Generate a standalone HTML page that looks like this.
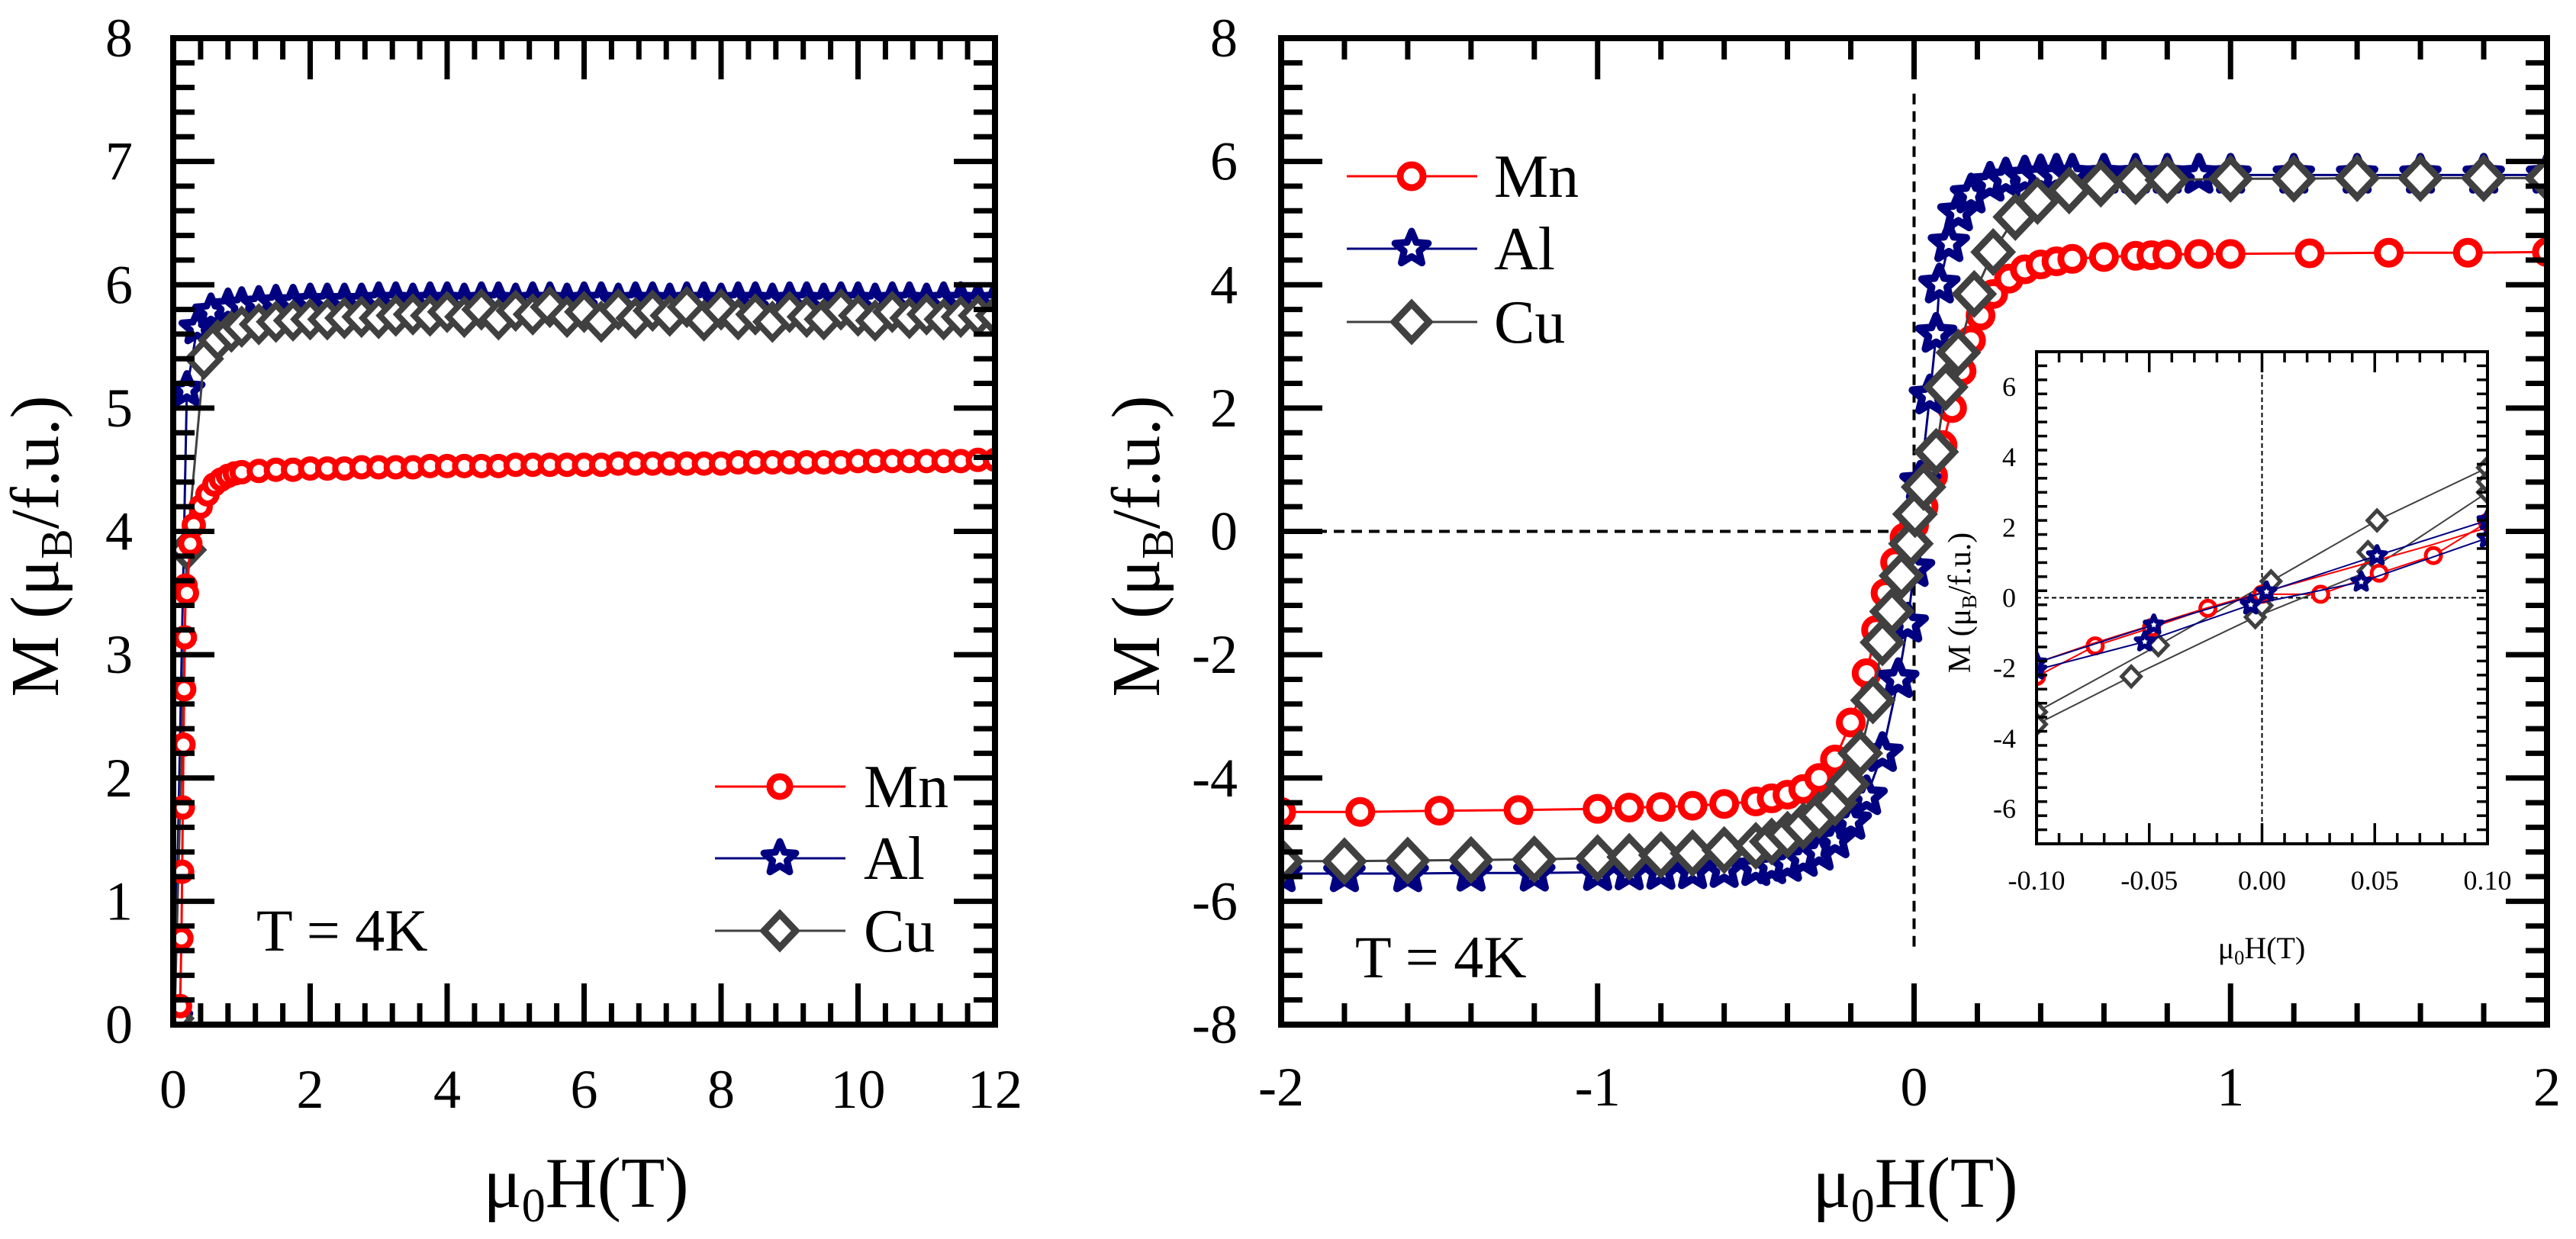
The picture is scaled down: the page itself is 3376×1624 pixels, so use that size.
<!DOCTYPE html>
<html><head><meta charset="utf-8"><style>
html,body{margin:0;padding:0;background:#fff}
svg{display:block}
text{font-family:"Liberation Serif","Times New Roman",serif;fill:#000}
</style></head><body>
<svg id="fig" xmlns="http://www.w3.org/2000/svg" width="3376" height="1624" viewBox="0 0 3376 1624">
<rect x="0" y="0" width="3376" height="1624" fill="#fff"/>
</svg>
<script>
// ---------- LEFT PANEL DATA (M vs H, 0-12 T) ----------
const hPlat = [1,1.25,1.5,1.75,2,2.25,2.5,2.75,3,3.25,3.5,3.75,4,4.25,4.5,4.75,5,5.25,5.5,5.75,6,6.25,6.5,6.75,7,7.25,7.5,7.75,8,8.25,8.5,8.75,9,9.25,9.5,9.75,10,10.25,10.5,10.75,11,11.25,11.5,11.75,12];
const mnLowH = [0.1,0.12,0.13,0.14,0.15,0.16,0.17,0.18,0.2,0.25,0.3,0.4,0.5,0.6,0.7,0.8,0.9];
const mnLowM = [0.15,0.7,1.24,1.76,2.27,2.72,3.14,3.56,3.5,3.9,4.05,4.2,4.3,4.38,4.42,4.45,4.47];
const mnPlatM = [4.48,4.49,4.50,4.50,4.51, 4.51,4.51,4.52,4.52,4.52, 4.52,4.53,4.53,4.53,4.53, 4.53,4.54,4.54,4.54,4.54, 4.54,4.54,4.55,4.55,4.55, 4.55,4.55,4.55,4.55,4.56, 4.56,4.56,4.56,4.56,4.56, 4.56,4.57,4.57,4.57,4.57, 4.57,4.57,4.57,4.58,4.58];
const alLowH = [0.02,0.2,0.35,0.55,0.8];
const alLowM = [0.05,5.15,5.65,5.78,5.82];
const alPlatM = [5.83,5.84,5.85,5.85,5.86, 5.86,5.86,5.86,5.87,5.87, 5.86,5.87,5.87,5.86,5.87, 5.87,5.86,5.87,5.87,5.86, 5.87,5.87,5.86,5.87,5.87, 5.86,5.87,5.87,5.86,5.87, 5.87,5.86,5.87,5.87,5.86, 5.87,5.87,5.86,5.87,5.87, 5.86,5.87,5.87,5.86,5.87];
const cuLowH = [0.02,0.2,0.45,0.65,0.85];
const cuLowM = [0.05,3.85,5.4,5.55,5.62];
const cuPlatM = [5.66,5.68,5.70,5.71,5.72, 5.72,5.73,5.74,5.73,5.75, 5.76,5.75,5.78,5.74,5.80, 5.72,5.79,5.76,5.82,5.74, 5.78,5.70,5.80,5.73,5.79, 5.75,5.82,5.71,5.80,5.72, 5.76,5.70,5.78,5.74,5.72, 5.80,5.75,5.71,5.78,5.73, 5.76,5.72,5.74,5.75,5.75];
const leftXTicks = ["0","2","4","6","8","10","12"];
const leftYTicks = ["0","1","2","3","4","5","6","7","8"];

// ---------- RIGHT PANEL DATA (hysteresis, -2..2 T) ----------
const mnH = [-2,-1.75,-1.5,-1.25,-1, -0.9,-0.8,-0.7,-0.6,-0.5, -0.45,-0.4,-0.35,-0.3,-0.25, -0.2,-0.15,-0.12,-0.09,-0.06, -0.03,0,0.03,0.06,0.09, 0.12,0.15,0.18,0.21,0.25, 0.3,0.35,0.4,0.45,0.5, 0.6,0.7,0.75,0.8,0.9, 1,1.25,1.5,1.75,2];
const mnM = [-4.55,-4.55,-4.53,-4.52,-4.5, -4.48,-4.47,-4.45,-4.42,-4.38, -4.33,-4.27,-4.18,-4.0,-3.7, -3.1,-2.3,-1.6,-1.0,-0.5, -0.1,0.1,0.4,0.9,1.4, 2.0,2.6,3.1,3.5,3.85, 4.1,4.25,4.33,4.38,4.42, 4.45,4.47,4.48,4.49,4.5, 4.5,4.51,4.52,4.52,4.53];
const alH = [-2,-1.8,-1.6,-1.4,-1.2, -1,-0.9,-0.8,-0.7,-0.6, -0.5,-0.45,-0.4,-0.35,-0.3, -0.25,-0.2,-0.15,-0.1,-0.05, -0.02,0,0.02,0.05,0.07, 0.08,0.11,0.14,0.18,0.24, 0.29,0.35,0.4,0.45,0.5, 0.6,0.7,0.8,0.9,1, 1.2,1.4,1.6,1.8,2];
const alM = [-5.55,-5.55,-5.55,-5.54,-5.54, -5.53,-5.52,-5.51,-5.5,-5.48, -5.45,-5.42,-5.38,-5.3,-5.2, -5.0,-4.7,-4.3,-3.6,-2.4, -1.5,-0.6,0.8,2.2,3.2, 4.0,4.67,5.17,5.46,5.65, 5.72,5.75,5.77,5.78,5.78, 5.78,5.78,5.78,5.78,5.78, 5.78,5.78,5.78,5.78,5.78];
const cuH = [-2,-1.8,-1.6,-1.4,-1.2, -1,-0.9,-0.8,-0.7,-0.6, -0.5,-0.45,-0.4,-0.35,-0.3, -0.25,-0.21,-0.17,-0.13,-0.1, -0.07,-0.04,-0.01,0.003,0.03, 0.07,0.1,0.14,0.19,0.25, 0.32,0.39,0.49,0.59,0.7, 0.8,1,1.2,1.4,1.6, 1.8,2];
const cuM = [-5.35,-5.35,-5.34,-5.33,-5.32, -5.3,-5.28,-5.25,-5.22,-5.17, -5.1,-5.03,-4.92,-4.78,-4.6, -4.4,-4.1,-3.6,-2.74,-1.8, -1.3,-0.72,-0.2,0.28,0.72, 1.29,2.34,2.9,3.85,4.53, 5.1,5.36,5.53,5.64,5.68, 5.7,5.72,5.72,5.73,5.73, 5.73,5.73];
const rightXTicks = ["-2","-1","0","1","2"];
const rightYTicks = ["-8","-6","-4","-2","0","2","4","6","8"];

// ---------- INSET DATA (-0.1..0.1 T) ----------
const inMnH1 = [-0.1,-0.074,-0.049,-0.024,0.0,0.026,0.052,0.076,0.1];
const inMnM1 = [-2.24,-1.37,-0.85,-0.3,0.1,0.1,0.7,1.2,2.15];
const inMnH2 = [0.1,0.075,0.05,0.025,0,-0.025,-0.05,-0.075,-0.1];
const inMnM2 = [2.0,1.5,1.05,0.6,0.15,-0.3,-0.8,-1.3,-1.85];
const inAlH1 = [-0.1,-0.052,-0.005,0.044,0.1];
const inAlM1 = [-2.05,-1.25,-0.2,0.45,1.7];
const inAlH2 = [-0.1,-0.048,0.002,0.051,0.1];
const inAlM2 = [-1.85,-0.77,0.17,1.2,2.2];
const inCuH1 = [-0.1,-0.046,0.004,0.051,0.1];
const inCuM1 = [-3.25,-1.35,0.47,2.2,3.7];
const inCuH2 = [-0.1,-0.058,-0.003,0.047,0.1];
const inCuM2 = [-3.6,-2.24,-0.55,0.75,3.0];
const inCuH3 = [0.1,0.047,0.0];
const inCuM3 = [3.3,1.3,-0.22];
const insetXTicks = ["-0.10","-0.05","0.00","0.05","0.10"];
const insetYTicks = ["-6","-4","-2","0","2","4","6"];

const NS = "http://www.w3.org/2000/svg";
const svg = document.getElementById('fig');
const SERIF = '"Liberation Serif", "Times New Roman", serif';
function mk(tag, attrs, parent){
  const e = document.createElementNS(NS, tag);
  for (const k in attrs) e.setAttribute(k, attrs[k]);
  (parent||svg).appendChild(e);
  return e;
}
function scale(d0,d1,r0,r1){ return v => r0 + (v-d0)*(r1-r0)/(d1-d0); }

const RED="#ff0000", NAVY="#000080", GRAY="#404040";

function starPts(cx,cy,R,r){
  let p=[];
  for(let i=0;i<10;i++){const a=-Math.PI/2+i*Math.PI/5;const rr=i%2?r:R;p.push((cx+rr*Math.cos(a)).toFixed(1)+","+(cy+rr*Math.sin(a)).toFixed(1));}
  return p.join(" ");
}
function marker(g, kind, cx, cy, s, sw, color){
  let e;
  if(kind==="circle"){
    e = mk('circle',{cx:cx,cy:cy,r:s,fill:"#fff",stroke:color,"stroke-width":sw},g);
    
  } else if(kind==="star"){
    e = mk('polygon',{points:starPts(cx,cy,s,s*0.45),fill:"#fff",stroke:color,"stroke-width":sw,"stroke-linejoin":"round"},g);
    
  } else {
    e = mk('polygon',{points:`${cx},${cy-s} ${cx+s*0.95},${cy} ${cx},${cy+s} ${cx-s*0.95},${cy}`,fill:"#fff",stroke:color,"stroke-width":sw,"stroke-linejoin":"miter"},g);
    
  }
  
}
function series(name, hs, ms, X, Y, kind, s, sw, color, lw, showMarkers, clipId){
  const g = mk('g', clipId?{"clip-path":`url(#${clipId})`}:{});
  
  
  const d = hs.map((h,i)=>(i?"L":"M")+X(h).toFixed(1)+","+Y(ms[i]).toFixed(1)).join(" ");
  const p = mk('path',{d:d,fill:"none",stroke:color,"stroke-width":lw},g);
  
  
  if(showMarkers) hs.forEach((h,i)=>marker(g,kind,X(h),Y(ms[i]),s,sw,color));
}
function frame(name,x0,y0,x1,y1,w){
  const r = mk('rect',{x:x0,y:y0,width:x1-x0,height:y1-y0,fill:"none",stroke:"#000","stroke-width":w});
  
  
}
function ticks(name, x0,y0,x1,y1, xs, ys, majL, minL, w){
  const g = mk('g',{stroke:"#000","stroke-width":w});
  
  
  xs.forEach(t=>{ const L=t[1]?majL:minL;
    mk('line',{x1:t[0],y1:y1,x2:t[0],y2:y1-L},g); mk('line',{x1:t[0],y1:y0,x2:t[0],y2:y0+L},g);});
  ys.forEach(t=>{ const L=t[1]?majL:minL;
    mk('line',{x1:x0,y1:t[0],x2:x0+L,y2:t[0]},g); mk('line',{x1:x1,y1:t[0],x2:x1-L,y2:t[0]},g);});
}
function txt(name, x, y, str, size, anchor){
  const t = mk('text', {x:x,y:y,"font-size":size,"text-anchor":anchor||"middle","font-family":SERIF});
  t.textContent = str;
  
  
  return t;
}
function richTitle(name, x, y, size, parts, rotate, fam){
  const t = mk('text',{x:x,y:y,"font-size":size,"text-anchor":"middle","font-family":fam||SERIF});
  if(rotate) t.setAttribute('transform',`rotate(-90 ${x} ${y})`);
  parts.forEach(p=>{const s=mk('tspan',p[1]==="sub"?{"baseline-shift":"-30%","font-size":size*0.66}:{},t); s.textContent=p[0];});
  
  
  return t;
}

const defs = mk('defs',{});
const cl = mk('clipPath',{id:"clipL"},defs); mk('rect',{x:227,y:50,width:1077,height:1293},cl);
const cr = mk('clipPath',{id:"clipR"},defs); mk('rect',{x:1679,y:50,width:1659,height:1293},cr);
const ci = mk('clipPath',{id:"clipI"},defs); mk('rect',{x:2669,y:461,width:591,height:645},ci);

// ===== LEFT PANEL =====
(function(){
  const x0=227,x1=1304,y0=50,y1=1343;
  const X=scale(0,12,x0,x1), Y=scale(0,8,y1,y0);
  series('al-series-left', alLowH.concat(hPlat), alLowM.concat(alPlatM), X,Y,'star',21,9,NAVY,3,true,'clipL');
  series('cu-series-left', cuLowH.concat(hPlat), cuLowM.concat(cuPlatM), X,Y,'diamond',22,8,GRAY,3,true,'clipL');
  series('mn-series-left', mnLowH.concat(hPlat), mnLowM.concat(mnPlatM), X,Y,'circle',12,8,RED,3,true,'clipL');
  const xt=[],yt=[];
  for(let v=0;v<=12.001;v+=0.4){xt.push([X(v), Math.abs(v/2-Math.round(v/2))<1e-6]);}
  for(let v=0;v<=8.001;v+=0.2){yt.push([Y(v), Math.abs(v-Math.round(v))<1e-6]);}
  ticks('left-ticks',x0,y0,x1,y1,xt,yt,54,28,7);
  frame('left-plot-frame',x0,y0,x1,y1,8);
  leftXTicks.forEach((s,i)=>txt('left-x-tick-label',X(i*2),1452,s,72));
  leftYTicks.forEach((s,i)=>txt('left-y-tick-label',174,Y(i)+24,s,72,'end'));
  richTitle('left-x-axis-title',768,1582,94,[["μ"],["0","sub"],["H(T)"]]);
  richTitle('left-y-axis-title',76,716,90,[["M (μ"],["B","sub"],["/f.u.)"]],true);
  const lg = mk('g',{});  
  const rows=[["Mn",RED,'circle',13],["Al",NAVY,'star',22],["Cu",GRAY,'diamond',22]];
  rows.forEach((r,i)=>{const y=[1031,1125,1220][i];
    const l=mk('line',{x1:937,y1:y,x2:1108,y2:y,stroke:r[1],"stroke-width":3},lg);
     
    marker(lg,r[2],1022,y,r[3],9,r[1]);
    txt('legend-label-'+r[0].toLowerCase(),1132,y+27,r[0],80,'start');});
  txt('left-temperature-label',336,1246,"T = 4K",78,'start');
})();

// ===== RIGHT PANEL =====
(function(){
  const x0=1679,x1=3338,y0=50,y1=1343;
  const X=scale(-2,2,x0,x1), Y=scale(-8,8,y1,y0);
  const dl=mk('path',{d:`M${x0},${Y(0)} L${X(0)},${Y(0)} M${X(0)},${Y(7.1)} L${X(0)},${Y(-6.8)}`,stroke:"#000","stroke-width":4,"stroke-dasharray":"14 9",fill:"none"});
   
  series('mn-series-right', mnH, mnM, X,Y,'circle',15,9,RED,3,true,'clipR');
  series('al-series-right', alH, alM, X,Y,'star',24,10,NAVY,3,true,'clipR');
  series('cu-series-right', cuH, cuM, X,Y,'diamond',25,9,GRAY,3,true,'clipR');
  const xt=[],yt=[];
  for(let v=-2;v<=2.001;v+=0.2){xt.push([X(v), Math.abs(v-Math.round(v))<1e-6]);}
  for(let v=-8;v<=8.001;v+=0.4){yt.push([Y(v), Math.abs(v/2-Math.round(v/2))<1e-6]);}
  ticks('right-ticks',x0,y0,x1,y1,xt,yt,54,28,7);
  frame('right-plot-frame',x0,y0,x1,y1,8);
  rightXTicks.forEach((s,i)=>txt('right-x-tick-label',X(i-2),1449,s,72));
  rightYTicks.forEach((s,i)=>txt('right-y-tick-label',1622,Y(i*2-8)+24,s,72,'end'));
  richTitle('right-x-axis-title',2510,1582,94,[["μ"],["0","sub"],["H(T)"]]);
  richTitle('right-y-axis-title',1519,716,90,[["M (μ"],["B","sub"],["/f.u.)"]],true);
  const lg = mk('g',{});  
  const rows=[["Mn",RED,'circle',15],["Al",NAVY,'star',23],["Cu",GRAY,'diamond',24]];
  rows.forEach((r,i)=>{const y=[231,326,422][i];
    const l=mk('line',{x1:1765,y1:y,x2:1936,y2:y,stroke:r[1],"stroke-width":3},lg);
     
    marker(lg,r[2],1850,y,r[3],9,r[1]);
    txt('legend-label-'+r[0].toLowerCase(),1958,y+27,r[0],80,'start');});
  txt('right-temperature-label',1776,1281,"T = 4K",78,'start');
})();

// ===== INSET =====
(function(){
  const x0=2669,x1=3260,y0=461,y1=1106;
  mk('rect',{x:x0,y:y0,width:x1-x0,height:y1-y0,fill:"#fff"});
  const X=scale(-0.1,0.1,x0,x1), Y=scale(-7,7,y1,y0);
  const dl=mk('path',{d:`M${x0},${Y(0)} L${x1},${Y(0)} M${X(0)},${y0} L${X(0)},${y1}`,stroke:"#000","stroke-width":2,"stroke-dasharray":"6 4",fill:"none"});
   
  series('inset-cu-branch-1', inCuH1, inCuM1, X,Y,'diamond',13,5,GRAY,2,true,'clipI');
  series('inset-cu-branch-2', inCuH2, inCuM2, X,Y,'diamond',13,5,GRAY,2,true,'clipI');
  series('inset-cu-branch-3', inCuH3, inCuM3, X,Y,'diamond',13,5,GRAY,0,true,'clipI');
  series('inset-mn-branch-1', inMnH1, inMnM1, X,Y,'circle',10,5,RED,2,true,'clipI');
  series('inset-mn-branch-2', inMnH2, inMnM2, X,Y,'circle',10,5,RED,2,false,'clipI');
  series('inset-al-branch-1', inAlH1, inAlM1, X,Y,'star',12,6,NAVY,2,true,'clipI');
  series('inset-al-branch-2', inAlH2, inAlM2, X,Y,'star',12,6,NAVY,2,true,'clipI');
  const xt=[],yt=[];
  for(let i=0;i<=20;i++){xt.push([X(-0.1+i*0.01), i%5===0]);}
  for(let i=0;i<=35;i++){yt.push([Y(-7+i*0.4), Math.abs(((-7+i*0.4)/2)-Math.round((-7+i*0.4)/2))<1e-6]);}
  ticks('inset-ticks',x0,y0,x1,y1,xt,yt,27,14,3.5);
  frame('inset-frame',x0,y0,x1,y1,4);
  insetXTicks.forEach((s,i)=>txt('inset-x-tick-label',X(-0.1+i*0.05),1166,s,36));
  insetYTicks.forEach((s,i)=>txt('inset-y-tick-label',2642,Y(-6+i*2)+12,s,36,'end'));
  richTitle('inset-x-axis-title',2964,1256,40,[["μ"],["0","sub"],["H(T)"]],false,'"Liberation Sans", Arial, sans-serif');
  richTitle('inset-y-axis-title',2582,790,42,[["M (μ"],["B","sub"],["/f.u.)"]],true);
})();
</script>
</body></html>
